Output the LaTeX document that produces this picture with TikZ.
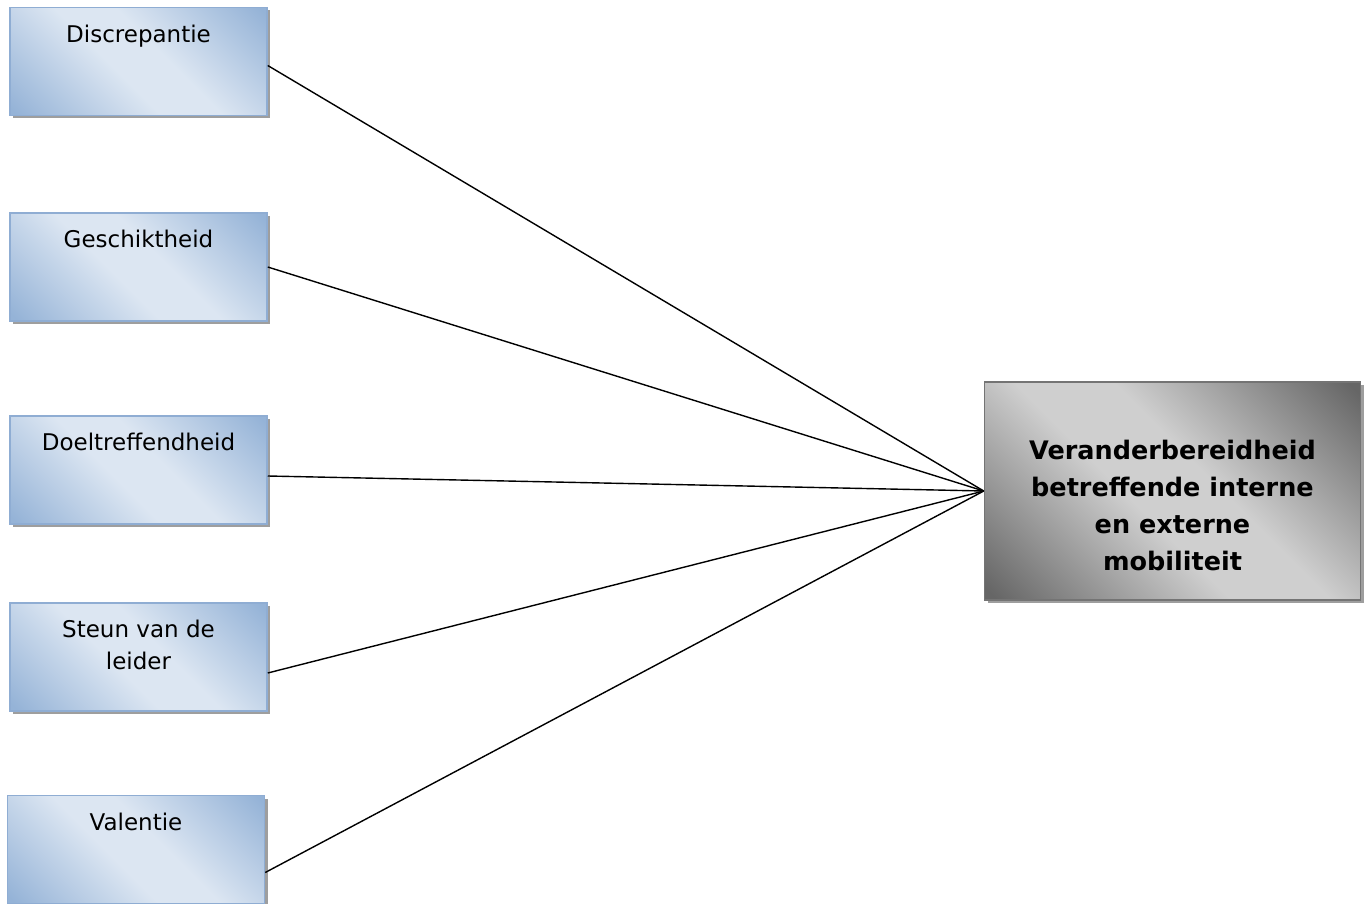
\documentclass[tikz,border=0pt]{standalone}
\usepackage{fontspec}
\setmainfont{DejaVu Sans}
\usetikzlibrary{positioning,shadows}
\definecolor{boxlt}{HTML}{DCE6F2}
\definecolor{boxdk}{HTML}{95B3D7}
\definecolor{boxline}{HTML}{8FADD3}
\definecolor{greylt}{HTML}{CFCFCF}
\definecolor{greydk}{HTML}{666666}
\definecolor{greyline}{HTML}{747474}
\definecolor{shadecol}{HTML}{9E9E9E}
\definecolor{ink}{HTML}{000000}

\pgfdeclarehorizontalshading{bluediag}{100bp}{color(0bp)=(boxdk); color(16bp)=(boxdk); color(44bp)=(boxlt); color(56bp)=(boxlt); color(84bp)=(boxdk); color(100bp)=(boxdk)}
\pgfdeclarehorizontalshading{greydiag}{100bp}{color(0bp)=(greydk); color(16bp)=(greydk); color(44bp)=(greylt); color(56bp)=(greylt); color(84bp)=(greydk); color(100bp)=(greydk)}

\begin{document}
\begin{tikzpicture}[
  x=1pt,y=-1pt,
  bluebox/.style={rectangle,draw=boxline,line width=1.5pt,shade,shading=bluediag,shading angle=45,
    minimum width=257pt,minimum height=108pt,inner sep=0pt,
    drop shadow={shadow xshift=3pt,shadow yshift=-3pt,fill=shadecol,opacity=1}},
  greybox/.style={rectangle,draw=greyline,line width=1.5pt,shade,shading=greydiag,shading angle=45,
    minimum width=376pt,minimum height=218pt,inner sep=0pt,
    drop shadow={shadow xshift=3pt,shadow yshift=-3pt,fill=shadecol,opacity=1}},
  boxlabel/.style={align=center,inner sep=0pt,text=ink,font=\fontsize{23}{32}\selectfont},
  goallabel/.style={align=center,inner sep=0pt,text=ink,font=\fontsize{25.5}{37}\selectfont\bfseries},
  link/.style={draw=ink,line width=1.4pt}
]
\clip (0,0) rectangle (1366,904);

% factors
\node[bluebox] (discr) at (138.5,61.5) {};
\node[boxlabel,below=18pt of discr.north] (discrtxt) {Discrepantie};
\node[bluebox] (gesch) at (138.5,267) {};
\node[boxlabel,below=18pt of gesch.north] (geschtxt) {Geschiktheid};
\node[bluebox] (doel) at (138.5,470) {};
\node[boxlabel,below=18pt of doel.north] (doeltxt) {Doeltreffendheid};
\node[bluebox] (steun) at (138.5,657) {};
\node[boxlabel,below=18pt of steun.north] (steuntxt) {Steun van de\\leider};
\node[bluebox] (val) at (136,849.5) {};
\node[boxlabel,below=18pt of val.north] (valtxt) {Valentie};

% outcome
\node[greybox] (bereid) at (1172.5,491) {};
\node[goallabel] (bereidtxt) at ([yshift=-14pt]bereid.center)
  {Veranderbereidheid\\betreffende interne\\en externe\\mobiliteit};

% connectors
\draw[link] ([yshift=-4pt]discr.east) -- (bereid.west);
\draw[link] (gesch.east) -- (bereid.west);
\draw[link] ([yshift=-6pt]doel.east) -- (bereid.west);
\draw[link] ([yshift=-16pt]steun.east) -- (bereid.west);
\draw[link] ([yshift=-23pt]val.east) -- (bereid.west);
\end{tikzpicture}
\end{document}
